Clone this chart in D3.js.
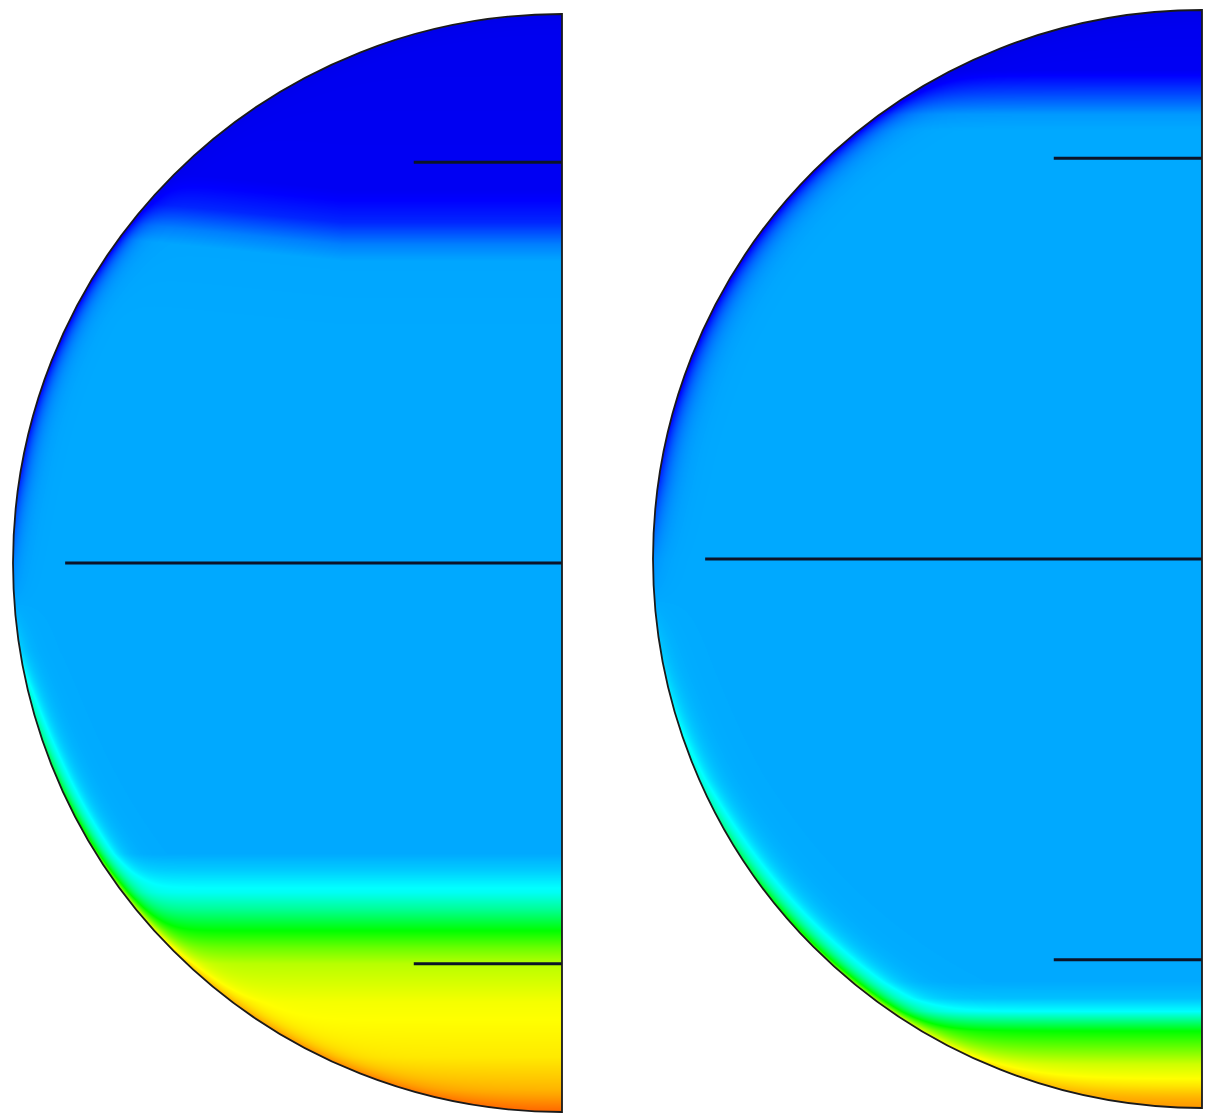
<!DOCTYPE html>
<html>
<head>
<meta charset="utf-8">
<script src="https://cdn.jsdelivr.net/npm/d3@7"></script>
<style>
body { margin: 0; background: #fff; }
</style>
</head>
<body>
<div id="vis"></div>
<script>
var width = 1205;
var height = 1118;

// vertical profiles, depth as fraction of the diameter (0 = top, 1 = bottom)
var leftDepth  = [0, 0.16, 0.19, 0.21, 0.225, 0.3, 0.765, 0.78, 0.8, 0.815, 0.835, 0.85, 0.865, 0.9, 0.95, 0.98, 1.0];
var leftValue  = [0.03, 0.035, 0.08, 0.15, 0.18, 0.183, 0.183, 0.21, 0.26, 0.35, 0.5, 0.6, 0.68, 0.74, 0.77, 0.82, 0.88];
var rightDepth = [0, 0.055, 0.075, 0.095, 0.11, 0.885, 0.9, 0.912, 0.93, 0.945, 0.96, 0.98, 1.0];
var rightValue = [0.03, 0.035, 0.1, 0.17, 0.183, 0.183, 0.2, 0.25, 0.5, 0.6, 0.7, 0.77, 0.86];

// values on the wall itself
var leftWallDepth  = [0, 0.3, 0.42, 0.5, 0.58, 0.6, 0.68, 0.76, 0.85, 1.0];
var leftWallValue  = [0.02, 0.03, 0.06, 0.15, 0.22, 0.26, 0.45, 0.6, 0.8, 0.9];
var rightWallDepth = [0, 0.35, 0.43, 0.5, 0.6, 0.7, 0.78, 0.88, 1.0];
var rightWallValue = [0.02, 0.03, 0.07, 0.16, 0.22, 0.3, 0.45, 0.65, 0.85];

// wavy upper front on the left one (shift in depth vs distance from axis)
var leftFrontX     = [0, 0.4, 0.6, 0.8, 1];
var leftFrontShift = [0, 0, 0.01, 0.02, 0.02];

// colour stops of the contour map
var mapStops  = [0, 0.05, 0.25, 0.5, 0.75, 1];
var mapColors = ["#0000d8", "#0000ff", "#00ffff", "#00ff00", "#ffff00", "#ff0000"];

// probe lines: offset from centre and length, both in radii
var probeOffset = [-0.73, 0, 0.73];
var probeLength = [0.27, 0.905, 0.27];

var halves = [
  {cx: 562, cy: 563, r: 549, depth: leftDepth, value: leftValue,
   wallDepth: leftWallDepth, wallValue: leftWallValue,
   frontX: leftFrontX, frontShift: leftFrontShift, delta: 8},
  {cx: 1202, cy: 559, r: 549, depth: rightDepth, value: rightValue,
   wallDepth: rightWallDepth, wallValue: rightWallValue,
   frontX: [0, 1], frontShift: [0, 0], delta: 10}
];

var colour = d3.scaleLinear()
  .domain(mapStops)
  .range(mapColors)
  .clamp(true);

var lut = d3.range(1024).map(function (i) { return d3.rgb(colour(i / 1023)); });

var svg = d3.select("#vis")
  .append("svg")
  .attr("width", width)
  .attr("height", height);

function halfPath(h) {
  var p = d3.path();
  p.moveTo(h.cx, h.cy - h.r);
  p.arc(h.cx, h.cy, h.r, -Math.PI / 2, Math.PI / 2, true);
  p.closePath();
  return p.toString();
}

function field(h) {
  var w = Math.ceil(h.r) + 1;
  var ht = Math.ceil(2 * h.r) + 1;
  var canvas = document.createElement("canvas");
  canvas.width = w;
  canvas.height = ht;
  var ctx = canvas.getContext("2d");
  var img = ctx.createImageData(w, ht);

  var base = d3.scaleLinear().domain(h.depth).range(h.value).clamp(true);
  var wall = d3.scaleLinear().domain(h.wallDepth).range(h.wallValue).clamp(true);
  var shift = d3.scaleLinear().domain(h.frontX).range(h.frontShift).clamp(true);

  for (var py = 0; py < ht; py++) {
    var y = py + 0.5;
    var f0 = y / (2 * h.r);
    var dy = y - h.r;
    var wv = wall(f0);
    for (var px = 0; px < w; px++) {
      var dx = px + 0.5 - h.r;
      var dist = Math.sqrt(dx * dx + dy * dy);
      if (dist > h.r + 1.5) continue;
      var f = f0;
      if (f0 < 0.4) f = f0 + shift(-dx / h.r);
      var v = base(f);
      var g = Math.exp(-Math.max(h.r - dist, 0) / h.delta);
      v = v + (wv - v) * g;
      var c = lut[Math.max(0, Math.min(1023, Math.round(v * 1023)))];
      var k = (py * w + px) * 4;
      img.data[k] = c.r;
      img.data[k + 1] = c.g;
      img.data[k + 2] = c.b;
      img.data[k + 3] = 255;
    }
  }
  ctx.putImageData(img, 0, 0);
  return canvas.toDataURL();
}

var defs = svg.append("defs");

halves.forEach(function (h, i) {
  defs.append("clipPath")
    .attr("id", "clip" + i)
    .append("path")
    .attr("d", halfPath(h));

  var g = svg.append("g").attr("class", "half");

  g.append("image")
    .attr("x", h.cx - h.r)
    .attr("y", h.cy - h.r)
    .attr("width", Math.ceil(h.r) + 1)
    .attr("height", Math.ceil(2 * h.r) + 1)
    .attr("preserveAspectRatio", "none")
    .attr("clip-path", "url(#clip" + i + ")")
    .attr("href", field(h));

  g.selectAll("line.probe")
    .data(probeOffset)
    .enter()
    .append("line")
    .attr("class", "probe")
    .attr("x1", function (d, j) { return h.cx - probeLength[j] * h.r; })
    .attr("x2", h.cx)
    .attr("y1", function (d) { return h.cy + d * h.r; })
    .attr("y2", function (d) { return h.cy + d * h.r; })
    .attr("stroke", "#0b1428")
    .attr("stroke-width", 3);

  g.append("path")
    .attr("d", halfPath(h))
    .attr("fill", "none")
    .attr("stroke", "#1a1a1a")
    .attr("stroke-width", 1.8);
});
</script>
</body>
</html>
